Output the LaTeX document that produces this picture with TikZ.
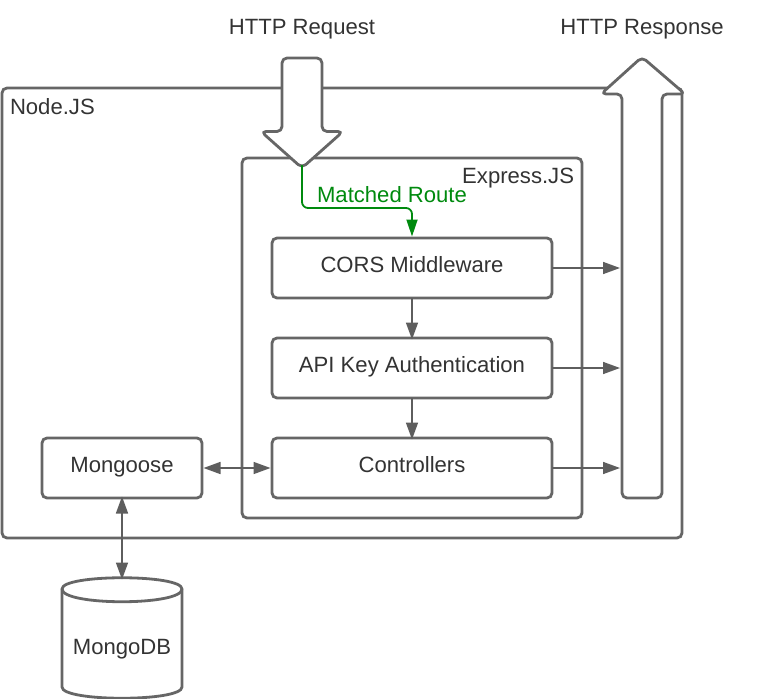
\documentclass[tikz,border=0pt]{standalone}
\usepackage{fontspec}
\setmainfont{Liberation Sans}
\usetikzlibrary{arrows.meta}
\definecolor{linegray}{HTML}{666666}
\definecolor{tipgray}{HTML}{5E5E5E}
\definecolor{textgray}{HTML}{333333}
\definecolor{routegreen}{HTML}{008A0E}
\tikzset{
  x=1pt,y=-1pt,
  every node/.style={font=\fontsize{22.1}{26}\selectfont,text=textgray,inner sep=0pt,outer sep=0pt},
  boxed/.style={draw=linegray,line width=2.8pt,rounded corners=5pt,fill=white,text height=15pt,text depth=7pt},
  container/.style={draw=linegray,line width=2.8pt,rounded corners=5pt},
  bigarrow/.style={draw=linegray,line width=2.8pt,rounded corners=5pt,fill=white,line join=round},
  conn/.style={draw=tipgray,line width=1.6pt,-{Triangle[length=17pt,width=12pt]}},
  biconn/.style={draw=tipgray,line width=1.6pt,{Triangle[length=17pt,width=12pt]}-{Triangle[length=17pt,width=12pt]}},
  route/.style={draw=routegreen,line width=1.8pt,rounded corners=6pt,-{Triangle[length=17pt,width=11pt]}}
}
\begin{document}
\begin{tikzpicture}
\useasboundingbox (0,0) rectangle (761,699);
% containers
\draw[container] (2,88) rectangle (682,538);
\draw[container] (242,158) rectangle (582,518);
\node[anchor=base west] (nodejs) at (10,114) {Node.JS};
\node[anchor=base east] (express) at (574,183) {Express.JS};
% boxes
\node[boxed,minimum width=280pt,minimum height=60pt] (cors) at (412,268) {CORS Middleware};
\node[boxed,minimum width=280pt,minimum height=60pt] (api) at (412,368) {API Key Authentication};
\node[boxed,minimum width=280pt,minimum height=60pt] (ctrl) at (412,468) {Controllers};
\node[boxed,minimum width=160pt,minimum height=60pt] (mongoose) at (122,468) {Mongoose};
% cylinder
\node[minimum width=120pt,minimum height=120pt] (mongodb) at (122,638) {};
\draw[draw=linegray,line width=2.8pt,fill=white]
  (62,589) .. controls (62,574) and (182,574) .. (182,589)
  -- (182,687) .. controls (182,702) and (62,702) .. (62,687) -- cycle;
\draw[draw=linegray,line width=2.8pt]
  (62,589) .. controls (62,606) and (182,606) .. (182,589);
\node[anchor=base] (mongolabel) at (122,654) {MongoDB};
% big arrows
\draw[bigarrow] (302,168) -- (261,131.5) -- (282,131.5) -- (282,58) -- (322,58) -- (322,131.5) -- (343,131.5) -- cycle;
\draw[bigarrow] (642,57) -- (685,94) -- (662,94) -- (662,498) -- (622,498) -- (622,94) -- (601,94) -- cycle;
\coordinate (reqtip) at (302,165);
\coordinate (r1) at (620,268);
\coordinate (r2) at (620,368);
\coordinate (r3) at (620,468);
\node[anchor=base] (req) at (302,34) {HTTP Request};
\node[anchor=base] (resp) at (642,34) {HTTP Response};
% connectors
\draw[route] (reqtip) |- (412,208) -- (412,236.5);
\node[anchor=base,text=routegreen] (matched) at (392,202) {Matched Route};
\draw[conn] (cors.south) -- ([yshift=-1.5pt]api.north);
\draw[conn] (api.south) -- ([yshift=-1.5pt]ctrl.north);
\draw[conn] (cors.east) -- (r1);
\draw[conn] (api.east) -- (r2);
\draw[conn] (ctrl.east) -- (r3);
\draw[biconn] ([xshift=1.5pt]mongoose.east) -- ([xshift=-1.5pt]ctrl.west);
\draw[biconn] ([yshift=1.5pt]mongoose.south) -- ([yshift=-1.5pt]mongodb.north);
\end{tikzpicture}
\end{document}
